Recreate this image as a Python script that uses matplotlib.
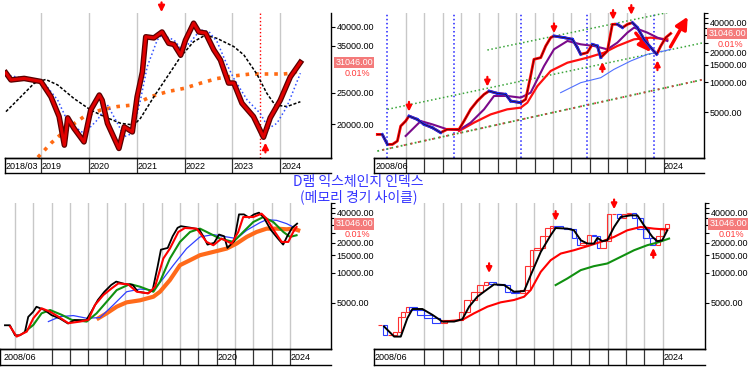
import matplotlib
matplotlib.use("Agg")
import matplotlib.pyplot as plt
import matplotlib.patheffects as pe
from matplotlib.patches import Rectangle
import numpy as np

plt.rcParams['font.family'] = ['Liberation Sans', 'DejaVu Sans']

# --- top-left panel (2018/03 ~ 2024), decimal years ---
p1_dates = [2018.27, 2018.375, 2018.65, 2019.0, 2019.21, 2019.38, 2019.49, 2019.56, 2019.69, 2019.9,
            2020.04, 2020.22, 2020.28, 2020.39, 2020.53, 2020.63, 2020.74, 2020.91, 2021.01, 2021.12,
            2021.19, 2021.36, 2021.53, 2021.67, 2021.78, 2021.92, 2022.02, 2022.19, 2022.3, 2022.44,
            2022.61, 2022.75, 2022.92, 2023.03, 2023.2, 2023.44, 2023.65, 2023.79, 2024.0, 2024.21, 2024.42]
p1_price = [28800, 27400, 27700, 27100, 24300, 21100, 17200, 20900, 19400, 17600,
            22100, 24600, 23700, 20100, 18100, 16800, 19600, 18900, 24300, 29000,
            37300, 37000, 38600, 35600, 35300, 32700, 36400, 41100, 38600, 38300,
            34000, 31600, 26800, 26800, 23200, 21100, 18200, 20900, 23700, 28000, 31046]

p1_blue_dates = [2018.27, 2018.86, 2019.07, 2019.35, 2019.56, 2019.9, 2020.18, 2020.39, 2020.6, 2020.74,
                 2020.91, 2021.08, 2021.22, 2021.43, 2021.53, 2021.78, 2021.95, 2022.13, 2022.33, 2022.51,
                 2022.68, 2022.89, 2023.03, 2023.31, 2023.58, 2023.76, 2023.93, 2024.14, 2024.28, 2024.42]
p1_blue = [28380, 27390, 26760, 23740, 20350, 18700, 20600, 22920, 20100, 18280,
           18700, 23740, 30100, 36450, 37780, 36450, 33940, 36000, 39150, 38690,
           36000, 30490, 27680, 23740, 21590, 19400, 20100, 22660, 25500, 28740]

p1_black_dates = [2018.27, 2018.58, 2018.86, 2019.1, 2019.35, 2019.69, 2020.04, 2020.32, 2020.67, 2020.94,
                  2021.08, 2021.36, 2021.64, 2021.92, 2022.19, 2022.44, 2022.68, 2023.03, 2023.24, 2023.51,
                  2023.72, 2023.89, 2024.14, 2024.42]
p1_black = [21850, 24300, 26760, 27500, 26440, 24000, 22110, 21090, 20100, 19860,
            20840, 24300, 28040, 32360, 36000, 37780, 36860, 34770, 32750, 28590,
            24900, 22920, 22660, 23450]

p1_orange_dates = [2018.8, 2019.21, 2019.56, 2019.9, 2020.25, 2020.6, 2020.94, 2021.29, 2021.64, 2021.99,
                   2022.33, 2022.68, 2023.03, 2023.38, 2023.72, 2024.07, 2024.28, 2024.42]
p1_orange = [15000, 17430, 19400, 21090, 22110, 22660, 22920, 24300, 25200, 25800,
             26760, 27680, 28190, 28590, 28590, 28590, 28790, 29580]

# --- long history 2008/06 ~ 2024 (shared by other three panels) ---
dates = [2008.45, 2008.72, 2009.0, 2009.27, 2009.54, 2009.72, 2009.99, 2010.17, 2010.62, 2010.99,
         2011.44, 2011.89, 2012.25, 2012.89, 2013.16, 2013.52, 2013.88, 2014.25, 2014.52, 2014.97,
         2015.42, 2015.7, 2016.24, 2016.51, 2016.78, 2016.96, 2017.33, 2017.6, 2017.87, 2018.05,
         2018.6, 2019.05, 2019.32, 2019.5, 2019.86, 2020.13, 2020.41, 2020.59, 2020.95, 2021.22,
         2021.49, 2021.77, 2022.04, 2022.31, 2022.58, 2022.94, 2023.31, 2023.63, 2023.85, 2024.12, 2024.39]
price = [2975, 2975, 2360, 2360, 2550, 3610, 4060, 4560, 4220, 3760,
         3480, 3100, 3350, 3350, 4060, 5330, 6460, 7550, 8150, 7730,
         7550, 6460, 6220, 6720, 11550, 17040, 17720, 23210, 28210, 29300,
         28210, 27130, 22370, 19140, 19900, 24150, 23210, 17720, 20670, 38450,
         38450, 35610, 38450, 40000, 35610, 27130, 22370, 19140, 23210, 28210, 31046]

# top-right panel lines
p2_purple_dates = [2009.99, 2010.81, 2011.44, 2012.25, 2012.89, 2013.52, 2014.25, 2014.79, 2015.51, 2016.24,
                   2016.78, 2017.51, 2018.05, 2018.78, 2019.5, 2020.22, 2020.95, 2021.49, 2022.04, 2022.4,
                   2023.12, 2023.67, 2024.21]
p2_purple = [2870, 4060, 3760, 3350, 3290, 3910, 5330, 7270, 7270, 6990,
             7850, 14600, 21500, 26100, 24150, 23240, 21500, 25100, 31700, 35600,
             31700, 28200, 26100]
p2_red_dates = [2012.89, 2013.7, 2014.61, 2015.51, 2016.24, 2016.6, 2017.15, 2017.87, 2018.78, 2019.86,
                2020.77, 2021.49, 2022.4, 2023.31, 2024.21]
p2_red = [3220, 3910, 4740, 5330, 5540, 6220, 9160, 13000, 15760, 17700,
          19900, 23240, 27130, 28200, 27130]
p2_blue_dates = [2018.41, 2019.5, 2020.59, 2021.31, 2022.22, 2023.12, 2024.03, 2024.39]
p2_blue = [7850, 9900, 11120, 13500, 16400, 19140, 20680, 21500]
channel_upper = ([2014.43, 2024.21], [21150, 50480])
channel_mid = ([2009.0, 2026.2], [5330, 25130])
channel_low = ([2008.45, 2026.2], [2020, 10700])
cycle_marks = [2009.0, 2012.62, 2016.25, 2019.87, 2023.46]

# bottom-left panel lines
p3_red_dates = [2008.73, 2009.09, 2009.64, 2010.0, 2010.45, 2010.91, 2011.36, 2011.91, 2012.55, 2013.0,
                2013.36, 2013.82, 2014.27, 2014.64, 2015.18, 2015.64, 2016.27, 2016.64, 2017.09, 2017.45,
                2017.91, 2018.27, 2018.91, 2019.45, 2019.82, 2020.27, 2020.82, 2021.18, 2021.45, 2022.0,
                2022.45, 2022.73, 2023.18, 2023.55, 2023.91, 2024.18, 2024.36]
p3_red = [2890, 2290, 2570, 3500, 4400, 4070, 3630, 3120, 3240, 3370,
          4750, 5980, 6970, 7820, 7640, 6450, 6210, 7240, 13880, 17470,
          25630, 28090, 27670, 20370, 18870, 22000, 19610, 25630, 36180, 36180,
          39060, 34820, 25630, 20370, 20370, 25630, 28750]
p3_green_dates = [2009.55, 2010.0, 2010.45, 2010.91, 2011.55, 2012.09, 2012.91, 2013.45, 2014.0, 2014.55,
                  2015.27, 2015.82, 2016.55, 2016.91, 2017.45, 2018.0, 2018.55, 2019.09, 2019.64, 2020.18,
                  2020.91, 2021.45, 2022.0, 2022.55, 2023.09, 2023.64, 2024.0, 2024.36]
p3_green = [2570, 3000, 3920, 4230, 3780, 3370, 3240, 3920, 5120, 6700,
            7700, 7240, 6450, 8120, 13880, 20370, 25630, 27670, 24670, 22000,
            20370, 25630, 32250, 36180, 32250, 25630, 22860, 23750]
p3_blue_dates = [2010.82, 2011.45, 2012.18, 2012.91, 2013.64, 2014.36, 2015.09, 2015.82, 2016.55, 2017.09,
                 2017.64, 2018.36, 2019.09, 2019.82, 2020.55, 2021.09, 2021.64, 2022.36, 2022.73, 2023.27,
                 2023.82, 2024.18]
p3_blue = [3240, 3630, 3720, 3500, 3550, 4750, 6450, 6860, 6700, 8760,
           11910, 17470, 22860, 24110, 22860, 22000, 26630, 31760, 34030, 33500,
           31040, 28750]
p3_orange_dates = [2013.55, 2014.0, 2014.55, 2015.09, 2015.82, 2016.55, 2016.91, 2017.45, 2018.0, 2018.55,
                   2019.09, 2019.82, 2020.55, 2021.09, 2021.64, 2022.18, 2022.73, 2023.27, 2023.82, 2024.18,
                   2024.45]
p3_orange = [3500, 3920, 4570, 5050, 5290, 5750, 6450, 8440, 11910, 13360,
             14990, 16180, 17470, 19610, 22860, 25630, 27670, 27670, 27250, 27670,
             26630]

# bottom-right panel lines
p4_black_dates = [2008.8, 2009.35, 2009.71, 2010.07, 2010.35, 2010.89, 2011.44, 2011.98, 2012.62, 2013.07,
                  2013.44, 2013.89, 2014.25, 2014.8, 2015.35, 2015.89, 2016.44, 2016.8, 2017.35, 2017.89,
                  2018.16, 2018.8, 2019.16, 2019.53, 2019.89, 2020.25, 2020.44, 2020.71, 2020.98, 2021.35,
                  2021.71, 2022.25, 2022.62, 2022.98, 2023.44, 2023.71, 2023.98, 2024.25]
p4_black = [2890, 2290, 2290, 3500, 4330, 4330, 3780, 3240, 3240, 3420,
            4570, 5750, 6450, 7640, 7520, 6450, 6550, 9460, 16180, 23750,
            28090, 27670, 26630, 21170, 19610, 19610, 22330, 20690, 21170, 28750,
            36180, 37590, 37590, 29870, 22860, 20690, 21170, 26630]
p4_red_dates = [2012.07, 2013.07, 2013.71, 2014.44, 2015.16, 2015.89, 2016.44, 2016.8, 2017.35, 2017.89,
                2018.44, 2019.16, 2019.89, 2020.62, 2021.35, 2022.07, 2022.8, 2023.53, 2024.25]
p4_red = [3240, 3370, 3920, 4570, 5050, 5330, 5750, 6700, 10220, 13360,
          15570, 16810, 18440, 20370, 22860, 26630, 28750, 27670, 27040]
p4_green_dates = [2018.16, 2018.8, 2019.53, 2020.25, 2020.98, 2021.71, 2022.44, 2023.16, 2023.71, 2024.35]
p4_green = [7520, 8760, 10620, 11640, 12380, 14420, 16810, 18870, 20060, 22000]

# arrow tips (year, value)
p1_down = [(2021.52, 43600)]
p1_up = [(2023.69, 17850)]
p2_down = [(2010.17, 4740), (2014.43, 8480), (2018.05, 29300), (2021.26, 40000), (2022.25, 44900)]
p2_up = [(2020.68, 17040), (2023.67, 17720)]
p2_big = [((2022.4, 32950), (2023.4, 19140)), ((2024.3, 21500), (2025.39, 48500))]
p4_down = [(2014.53, 9320), (2018.16, 31040), (2021.35, 40590)]
p4_up = [(2023.49, 18870)]

last = price[-1]
GRID = '#c8c8c8'
W, H = 748, 371


def frac(x0, y0, x1, y1):
    return [x0 / W, 1 - y1 / H, (x1 - x0) / W, (y1 - y0) / H]


def setup(ax, xlim, ylim, yticks, grid_years, minor=()):
    ax.set_xlim(*xlim)
    ax.set_yscale('log')
    ax.set_ylim(*ylim)
    for s in ['top', 'left']:
        ax.spines[s].set_visible(False)
    ax.spines['right'].set_linewidth(1.0)
    ax.spines['bottom'].set_linewidth(1.0)
    ax.set_xticks([])
    ax.yaxis.tick_right()
    ax.set_yticks(yticks)
    ax.set_yticklabels([f'{v:.2f}' for v in yticks], fontsize=6.5)
    ax.set_yticks(list(minor), minor=True)
    ax.yaxis.set_minor_formatter(plt.NullFormatter())
    ax.tick_params(axis='y', which='both', direction='out', length=3, width=0.8, pad=1)
    for yr in grid_years:
        ax.axvline(yr, color=GRID, lw=1, zorder=0)
    ax.annotate(f'{last:.2f}', xy=(1, last), xycoords=('axes fraction', 'data'),
                xytext=(3, 0), textcoords='offset points', ha='left', va='center',
                fontsize=6.5, color='white', annotation_clip=False,
                bbox=dict(boxstyle='square,pad=0.15', fc='#f47a7a', ec='none'))
    ax.annotate('0.01%', xy=(1, last), xycoords=('axes fraction', 'data'),
                xytext=(10, -8), textcoords='offset points', ha='left', va='center',
                fontsize=6.5, color='#ff3b3b', annotation_clip=False)


def strip(rect, xlim, seps, labels):
    s = fig.add_axes(rect)
    s.set_xlim(*xlim)
    s.set_ylim(0, 1)
    s.set_xticks([])
    s.set_yticks([])
    s.spines['right'].set_visible(False)
    for sp in ['top', 'bottom', 'left']:
        s.spines[sp].set_linewidth(1.0)
    for yr in seps:
        s.axvline(yr, color='#333333', lw=0.9)
    for yr, txt in labels:
        s.text(yr, 0.45, txt, ha='left', va='center', fontsize=6.5, clip_on=False,
               transform=s.transData)
    s.patch.set_alpha(0)
    return s


def arrows(ax, downs, ups, size=8):
    for tip in downs:
        ax.annotate('', xy=tip, xytext=(0, 11), textcoords='offset points',
                    annotation_clip=False,
                    arrowprops=dict(arrowstyle='-|>', color='red', lw=1.6, mutation_scale=size))
    for tip in ups:
        ax.annotate('', xy=tip, xytext=(0, -11), textcoords='offset points',
                    annotation_clip=False,
                    arrowprops=dict(arrowstyle='-|>', color='red', lw=1.6, mutation_scale=size))


fig = plt.figure(figsize=(7.48, 3.71), dpi=100)
fig.patch.set_facecolor('white')

# ---------------- panel 1 ----------------
xl1 = (2018.25, 2025.06)
ax1 = fig.add_axes(frac(5, 13, 331, 158))
setup(ax1, xl1, (15690, 44200), [20000, 25000, 35000, 40000], range(2019, 2025))
ax1.axvline(2023.58, color='red', ls=':', lw=1, zorder=1)
ax1.plot(p1_orange_dates, p1_orange, color='#ff6a13', ls=':', lw=2.6, zorder=2)
ax1.plot(p1_black_dates, p1_black, color='black', ls=(0, (2, 1.2)), lw=1.1, zorder=3)
ax1.plot(p1_blue_dates, p1_blue, color='#3050ff', ls=':', lw=1.1, zorder=3)
ax1.plot(p1_dates, p1_price, color='#e00000', lw=2.2, zorder=4,
         path_effects=[pe.Stroke(linewidth=4.0, foreground='#5a0000'), pe.Normal()])
arrows(ax1, p1_down, p1_up, size=9)
strip(frac(5, 158, 331, 173), xl1, range(2019, 2025),
      [(2018.27, '2018/03')] + [(y + 0.02, str(y)) for y in range(2019, 2025)])

# ---------------- panel 2 ----------------
xl2 = (2008.27, 2026.2)
ylog = (1720, 50000)
ticks_l = [5000, 10000, 15000, 20000, 40000]
minor_l = [25000, 30000, 35000, 45000, 50000]
ax2 = fig.add_axes(frac(374, 13, 704, 158))
setup(ax2, xl2, ylog, ticks_l, range(2010, 2025), minor_l)
for yr in cycle_marks:
    ax2.axvline(yr, color='#2020ff', ls=':', lw=1.1, zorder=1)
ax2.plot(*channel_upper, color='#3aa53a', ls=':', lw=1.1, zorder=1)
ax2.plot(*channel_mid, color='#3aa53a', ls=':', lw=1.1, zorder=1)
ax2.plot(*channel_low, color='#3aa53a', ls=':', lw=1.3, zorder=1)
ax2.plot(*channel_low, color='#d04040', ls=(1, (1, 3)), lw=1.3, zorder=1)
ax2.plot(p2_blue_dates, p2_blue, color='#5070ff', lw=0.8, zorder=2)
ax2.plot(p2_red_dates, p2_red, color='#ff1010', lw=1.6, zorder=2)
ax2.plot(p2_purple_dates, p2_purple, color='#7a0a8a', lw=1.5, zorder=3)
ax2.plot(dates, price, color='#ff0000', lw=2.0, zorder=4)
for i in range(1, len(price)):
    if price[i] < price[i - 1]:
        ax2.plot(dates[i - 1:i + 1], price[i - 1:i + 1], color='#1030ff', lw=2.0, zorder=4)
ax2.plot(dates, price, color='#400000', lw=0.5, zorder=5)
arrows(ax2, p2_down, p2_up, size=8)
for tail, tip in p2_big:
    ax2.annotate('', xy=tip, xytext=tail, annotation_clip=False,
                 arrowprops=dict(arrowstyle='-|>', color='red', lw=2.4, mutation_scale=18))
strip(frac(374, 158, 704, 173), xl2, range(2010, 2025),
      [(2008.35, '2008/06'), (2024.03, '2024')])

# ---------------- panel 3 ----------------
xl3 = (2008.18, 2026.24)
ax3 = fig.add_axes(frac(0, 203, 331, 349))
setup(ax3, xl3, ylog, ticks_l, range(2009, 2025), minor_l)
ax3.plot(p3_orange_dates, p3_orange, color='#ff6a1a', lw=3.0, zorder=2)
ax3.plot(p3_blue_dates, p3_blue, color='#3040ff', lw=0.9, zorder=3)
ax3.plot(p3_green_dates, p3_green, color='#109010', lw=1.5, zorder=3)
ax3.plot(dates, price, color='black', lw=1.3, zorder=4)
ax3.plot(p3_red_dates, p3_red, color='#ff0000', lw=1.5, zorder=5)
strip(frac(0, 349, 331, 365), xl3, range(2011, 2025),
      [(2008.35, '2008/06'), (2020.03, '2020'), (2024.03, '2024')])

# ---------------- panel 4 ----------------
xl4 = (2008.25, 2026.31)
ax4 = fig.add_axes(frac(374, 203, 705, 349))
setup(ax4, xl4, ylog, ticks_l, range(2011, 2025), minor_l)
for i in range(1, len(price)):
    o, c = price[i - 1], price[i]
    x0 = dates[i - 1]
    w = (dates[i] - dates[i - 1]) * 0.9
    col = '#ff3030' if c >= o else '#2a3cff'
    ax4.add_patch(Rectangle((x0, min(o, c)), w, abs(c - o) + 1, fill=False,
                            ec=col, lw=0.8, zorder=2))
ax4.plot(p4_green_dates, p4_green, color='#109010', lw=1.5, zorder=3)
ax4.plot(p4_red_dates, p4_red, color='#ff0000', lw=1.5, zorder=3)
ax4.plot(p4_black_dates, p4_black, color='black', lw=1.4, zorder=4)
arrows(ax4, p4_down, p4_up, size=8)
strip(frac(374, 349, 705, 365), xl4, range(2011, 2025),
      [(2008.3, '2008/06'), (2024.03, '2024')])

# ---------------- title (one text, two lines) ----------------
fig.text(0.479, 0.489, 'D램 익스체인지 인덱스\n(메모리 경기 사이클)', ha='center', va='center',
         fontsize=10, linespacing=1.1, color='#3434ff',
         family=['Noto Sans CJK KR', 'DejaVu Sans'])

fig.savefig('out.png', dpi=100)
